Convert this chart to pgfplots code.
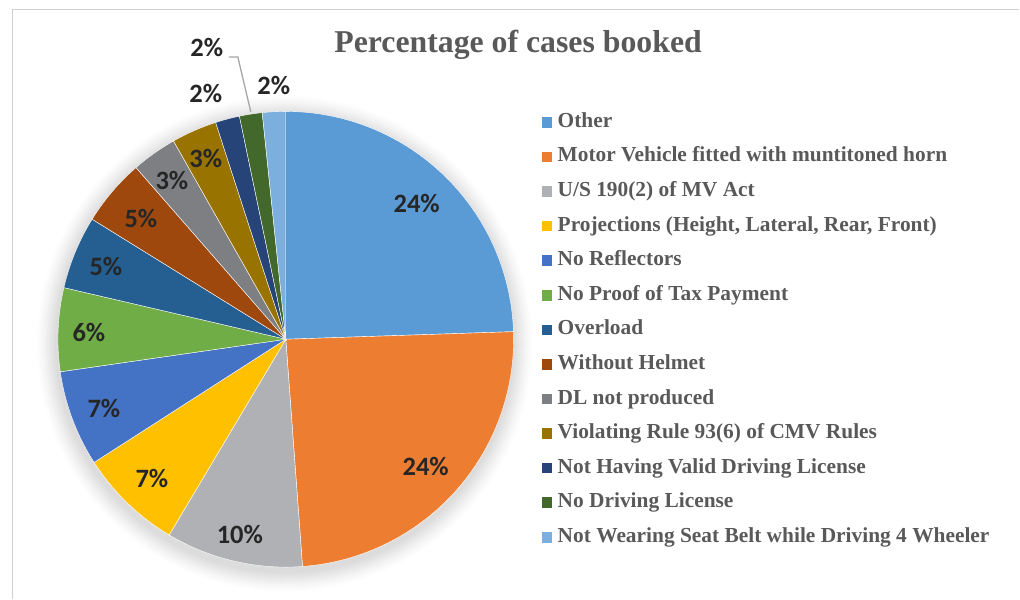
\documentclass[border=0pt]{standalone}
\usepackage{pgfplots}
\pgfplotsset{compat=1.18}
\usepackage{fontspec}
\setmainfont{Liberation Serif}
\newfontfamily\lblfont{Carlito}
\definecolor{c1}{HTML}{5B9BD5}
\definecolor{c2}{HTML}{ED7D31}
\definecolor{c3}{HTML}{B0B1B4}
\definecolor{c4}{HTML}{FFC000}
\definecolor{c5}{HTML}{4472C4}
\definecolor{c6}{HTML}{70AD47}
\definecolor{c7}{HTML}{255E91}
\definecolor{c8}{HTML}{9E480E}
\definecolor{c9}{HTML}{7E7F83}
\definecolor{c10}{HTML}{997300}
\definecolor{c11}{HTML}{264478}
\definecolor{c12}{HTML}{43682B}
\definecolor{c13}{HTML}{7CAFDD}
\definecolor{txt}{HTML}{595959}
\definecolor{lbl}{HTML}{262626}
\definecolor{frame}{HTML}{D0D0D0}
\definecolor{leader}{HTML}{A6A6A6}
% slice: colour, start angle, end angle (clockwise from 12 o'clock)
% shares (percent): 24.47 24.36 9.72 7.36 6.81 5.92 5.19 4.75 3.22 3.22 1.72 1.61 1.65
\newcommand{\slice}[3]{\addplot[fill=#1, draw=white, line width=0.4pt, domain=#3:#2, samples=90, variable=\t] ({286+228*cos(\t)},{259.5+228*sin(\t)}) -- (axis cs:286,259.5) -- cycle;}
\newcommand{\shadow}[2]{\addplot[fill=black, fill opacity=#2, draw=none, domain=0:360, samples=120, variable=\t, forget plot] ({285+#1*cos(\t)},{255+#1*sin(\t)});}
\begin{document}
\begin{tikzpicture}
\begin{axis}[
  scale only axis, width=1020pt, height=599pt,
  xmin=0, xmax=1020, ymin=0, ymax=599,
  hide axis, clip=false,
  title={Percentage of cases booked},
  title style={at={(0.5083,0.9015)}, anchor=base, font=\fontsize{31.8}{36}\selectfont\bfseries, text=txt},
  legend image code/.code={\path[#1, draw=none] (0pt,-5.25pt) rectangle (10.5pt,5.25pt);},
  legend cell align=left,
  legend style={at={(axis cs:542,486)}, anchor=north west, draw=none, fill=none, inner sep=0pt, outer sep=0pt,
    row sep=15.6pt, column sep=5.6pt,
    font=\fontsize{21.4}{24}\selectfont\bfseries, text=txt,
    nodes={inner sep=0pt, text height=14.5pt, text depth=4.5pt}},
  legend entries={Other, Motor Vehicle fitted with muntitoned horn, U/S 190(2) of MV Act,
    {Projections (Height, Lateral, Rear, Front)}, No Reflectors, No Proof of Tax Payment,
    Overload, Without Helmet, DL not produced, Violating Rule 93(6) of CMV Rules,
    Not Having Valid Driving License, No Driving License, Not Wearing Seat Belt while Driving 4 Wheeler},
]
\addplot[draw=none, forget plot] coordinates {(0,0) (1020,599)};
\addplot[draw=frame, line width=1.5pt, forget plot] coordinates {(12.5,0) (12.5,589.5) (1020,589.5)};
\shadow{248}{0.008}
\shadow{246}{0.01}
\shadow{244}{0.012}
\shadow{242}{0.012}
\shadow{240}{0.014}
\shadow{238}{0.014}
\shadow{236}{0.016}
\shadow{234}{0.016}
\shadow{232}{0.018}
\shadow{230}{0.02}
\slice{c1}{90}{1.91}
\slice{c2}{1.91}{-85.79}
\slice{c3}{-85.79}{-120.78}
\slice{c4}{-120.78}{-147.28}
\slice{c5}{-147.28}{-171.79}
\slice{c6}{-171.79}{-193.10}
\slice{c7}{-193.10}{-211.79}
\slice{c8}{-211.79}{-228.89}
\slice{c9}{-228.89}{-240.48}
\slice{c10}{-240.48}{-252.07}
\slice{c11}{-252.07}{-258.26}
\slice{c12}{-258.26}{-264.06}
\slice{c13}{-264.06}{-270}
\addplot[draw=leader, line width=1.3pt, forget plot] coordinates {(229,542) (238,542) (251,487)};
\addplot[draw=none, mark=none, forget plot, point meta=explicit symbolic,
  nodes near coords={\pgfplotspointmeta\%},
  nodes near coords style={anchor=center, font=\lblfont\fontsize{26.5}{30}\selectfont\bfseries, text=lbl, inner sep=0pt}]
  table[meta=p] {
x y p
417 395 24
426 132 24
240 64 10
152 120 7
104 190 7
89 266 6
106 332 5
141 380 5
172 418 3
206 440 3
206 505 2
207 551 2
274 513 2
};
\end{axis}
\end{tikzpicture}
\end{document}
